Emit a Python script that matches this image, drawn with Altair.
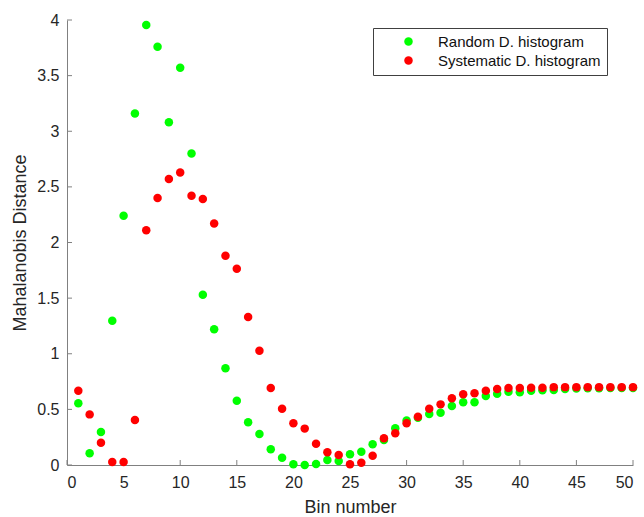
import altair as alt
import pandas as pd

bins = list(range(1, 51))
random_d = [0.554, 0.105, 0.297, 1.297, 2.241, 3.16, 3.955, 3.76, 3.08, 3.57,
            2.80, 1.53, 1.22, 0.87, 0.577, 0.384, 0.279, 0.141, 0.066, 0.006,
            0.0, 0.009, 0.045, 0.036, 0.096, 0.12, 0.186, 0.225, 0.33, 0.40,
            0.425, 0.458, 0.47, 0.53, 0.563, 0.563, 0.62, 0.641, 0.659, 0.653,
            0.668, 0.671, 0.674, 0.683, 0.688, 0.69, 0.69, 0.692, 0.692, 0.692]
systematic_d = [0.668, 0.455, 0.20, 0.027, 0.027, 0.404, 2.11, 2.40, 2.57, 2.63,
                2.42, 2.39, 2.17, 1.88, 1.765, 1.33, 1.027, 0.692, 0.506, 0.375,
                0.327, 0.19, 0.114, 0.09, 0.006, 0.021, 0.084, 0.24, 0.285, 0.375,
                0.434, 0.506, 0.545, 0.60, 0.635, 0.644, 0.668, 0.683, 0.692, 0.692,
                0.695, 0.695, 0.70, 0.70, 0.70, 0.70, 0.70, 0.70, 0.70, 0.70]
series_names = ["Random D. histogram", "Systematic D. histogram"]
series_colors = ["#00ff00", "#ff0000"]
x_ticks = [0, 5, 10, 15, 20, 25, 30, 35, 40, 45, 50]
y_ticks = [0, 0.5, 1, 1.5, 2, 2.5, 3, 3.5, 4]

W, H = 566, 445
FONT = "Liberation Sans"
AXIS_GRAY = "#808080"
TICK = 5

df = pd.DataFrame({
    "bin": bins + bins,
    "value": random_d + systematic_d,
    "series": [series_names[0]] * len(bins) + [series_names[1]] * len(bins),
    "order": list(range(len(bins) * 2)),
})

xscale = alt.Scale(domain=[0, 50], nice=False, zero=False)
yscale = alt.Scale(domain=[0, 4], nice=False)

xaxis = alt.Axis(title="Bin number", values=x_ticks, format="d",
                 tickSize=0, labelPadding=9, titlePadding=8, grid=False,
                 labelFont=FONT, labelFontSize=16, labelColor="#262626",
                 titleFont=FONT, titleFontSize=18, titleFontWeight="normal",
                 titleColor="#262626", domainColor=AXIS_GRAY)
yaxis = alt.Axis(title="Mahalanobis Distance", values=y_ticks, format="~g",
                 tickSize=0, labelPadding=8, titlePadding=7, grid=False,
                 labelFont=FONT, labelFontSize=16, labelColor="#262626",
                 titleFont=FONT, titleFontSize=18, titleFontWeight="normal",
                 titleColor="#262626", domainColor=AXIS_GRAY)

points = alt.Chart(df).mark_circle(size=72, opacity=1).encode(
    x=alt.X("bin:Q", scale=xscale, axis=xaxis),
    y=alt.Y("value:Q", scale=yscale, axis=yaxis),
    color=alt.Color("series:N",
                    scale=alt.Scale(domain=series_names, range=series_colors),
                    legend=alt.Legend(title=None, orient="none",
                                      legendX=306, legendY=8,
                                      symbolType="circle", symbolSize=72,
                                      symbolOffset=22, labelOffset=22,
                                      padding=6, rowPadding=3, labelLimit=400,
                                      strokeColor="#404040", fillColor="white",
                                      labelFontSize=15, labelFont=FONT,
                                      labelColor="#111111")),
    order=alt.Order("order:Q"),
)

xt = pd.DataFrame({"t": x_ticks})
yt = pd.DataFrame({"t": y_ticks})

x_tick_marks = alt.Chart(xt).mark_rule(color=AXIS_GRAY, strokeWidth=1).encode(
    x=alt.X("t:Q", scale=xscale, axis=xaxis),
    y=alt.value(H), y2=alt.value(H - TICK),
)
y_tick_marks = alt.Chart(yt).mark_rule(color=AXIS_GRAY, strokeWidth=1).encode(
    y=alt.Y("t:Q", scale=yscale, axis=yaxis),
    x=alt.value(0), x2=alt.value(TICK),
)

chart = alt.layer(x_tick_marks, y_tick_marks, points).properties(
    width=W, height=H,
    padding={"left": 67, "top": 20, "right": 11, "bottom": 52},
    autosize=alt.AutoSizeParams(type="none"),
    background="white",
).configure_view(stroke=None)

chart.save("out.html", embed_options={"renderer": "svg", "actions": False})
